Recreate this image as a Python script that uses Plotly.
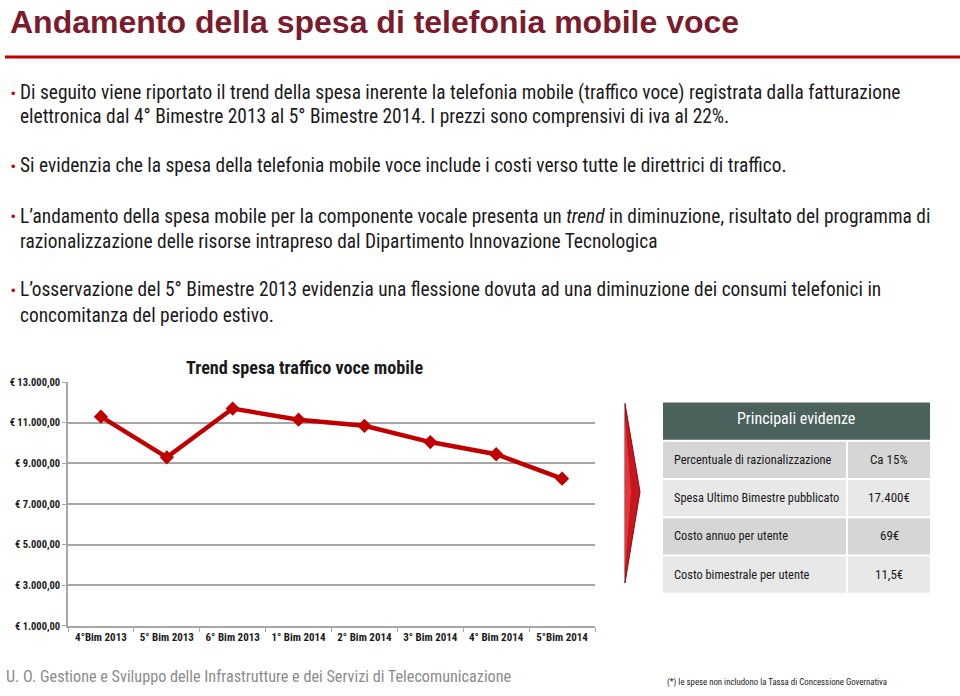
import plotly.graph_objects as go

W, H = 960, 696

# ---------------- data ----------------
categories = ["4°Bim 2013", "5° Bim 2013", "6° Bim 2013", "1° Bim 2014",
              "2° Bim 2014", "3° Bim 2014", "4° Bim 2014", "5°Bim 2014"]
spesa = [11300, 9300, 11700, 11150, 10850, 10050, 9450, 8250]
y_ticks = [1000, 3000, 5000, 7000, 9000, 11000, 13000]
y_tick_labels = ["€ 1.000,00", "€ 3.000,00", "€ 5.000,00", "€ 7.000,00",
                 "€ 9.000,00", "€ 11.000,00", "€ 13.000,00"]

table_header = "Principali evidenze"
table_labels = ["Percentuale di razionalizzazione", "Spesa Ultimo Bimestre pubblicato",
                "Costo annuo per utente", "Costo bimestrale per utente"]
table_values = ["Ca 15%", "17.400€", "69€", "11,5€"]

title = "Andamento della spesa di telefonia mobile voce"
chart_title = "Trend spesa traffico voce mobile"
bullets = [
    ["Di seguito viene riportato il trend della spesa inerente la telefonia mobile (traffico voce) registrata dalla fatturazione",
     "elettronica dal 4° Bimestre 2013 al 5° Bimestre 2014. I prezzi sono comprensivi di iva al 22%."],
    ["Si evidenzia che la spesa della telefonia mobile voce include i costi verso tutte le direttrici di traffico."],
    ["L’andamento della spesa mobile per la componente vocale presenta un <i>trend</i> in diminuzione, risultato del programma di",
     "razionalizzazione delle risorse intrapreso dal Dipartimento Innovazione Tecnologica"],
    ["L’osservazione del 5° Bimestre 2013 evidenzia una flessione dovuta ad una diminuzione dei consumi telefonici in",
     "concomitanza del periodo estivo."],
]
footer = "U. O. Gestione e Sviluppo delle Infrastrutture e dei Servizi di Telecomunicazione"
footnote = "(*) le spese non includono la Tassa di Concessione Governativa"

NARROW = "Liberation Sans Narrow, Arial Narrow, Roboto Condensed, sans-serif"
ARIAL = "Liberation Sans, Arial, sans-serif"


def px(x):
    return x / W


def py(y):
    return 1 - y / H


fig = go.Figure()
fig.add_trace(go.Scatter(
    x=categories, y=spesa, mode="lines+markers",
    line=dict(color="#C00000", width=4.5),
    marker=dict(symbol="diamond", size=11, color="#C00000"),
    showlegend=False, hoverinfo="x+y",
))

annotations = []
shapes = []

# title + rule
annotations.append(dict(x=px(8), y=py(16), xref="paper", yref="paper", xanchor="left", yanchor="middle",
                        text="<b>" + title + "</b>", showarrow=False,
                        font=dict(family=ARIAL, size=32, color="#7B1B2C")))
shapes.append(dict(type="line", xref="paper", yref="paper", x0=px(5), x1=px(960), y0=py(52), y1=py(52),
                   line=dict(color="#C00000", width=3)))

# bullets
line_ys = [[88, 113], [163], [214, 240], [289, 315]]
for lines, ys in zip(bullets, line_ys):
    annotations.append(dict(x=px(9), y=py(ys[0] + 1), xref="paper", yref="paper", xanchor="left", yanchor="middle",
                            text="•", showarrow=False, font=dict(family=ARIAL, size=13, color="#C00000")))
    for t, yy in zip(lines, ys):
        annotations.append(dict(x=px(18), y=py(yy), xref="paper", yref="paper", xanchor="left", yanchor="middle",
                                text=t, showarrow=False, font=dict(family=NARROW, size=19.4, color="#1A1A1A")))

# chart title
annotations.append(dict(x=px(304), y=py(368), xref="paper", yref="paper", xanchor="center", yanchor="middle",
                        text="<b>" + chart_title + "</b>", showarrow=False,
                        font=dict(family=NARROW, size=18.2, color="#1A1A1A")))

# arrow
shapes.append(dict(type="path", xref="paper", yref="paper",
                   path=f"M {px(625)} {py(405)} L {px(640)} {py(495)} L {px(625)} {py(588)} Z",
                   fillcolor="#C8161D", line=dict(color="#8B0E12", width=1)))
shapes.append(dict(type="path", xref="paper", yref="paper",
                   path=f"M {px(625)} {py(420)} L {px(631)} {py(495)} L {px(625)} {py(575)} Z",
                   fillcolor="#E0393E", line=dict(width=0)))

# table
shapes.append(dict(type="rect", xref="paper", yref="paper", x0=px(663), x1=px(930), y0=py(404), y1=py(442),
                   fillcolor="#4B625C", line=dict(width=0)))
annotations.append(dict(x=px(796), y=py(420), xref="paper", yref="paper", xanchor="center", yanchor="middle",
                        text=table_header, showarrow=False, font=dict(family=NARROW, size=16, color="white")))
row_tops = [444, 483, 522, 561]
row_h = 37
fills = ["#D6D6D6", "#E8E8E8", "#D6D6D6", "#E8E8E8"]
for lab, val, top, fc in zip(table_labels, table_values, row_tops, fills):
    shapes.append(dict(type="rect", xref="paper", yref="paper", x0=px(663), x1=px(846), y0=py(top), y1=py(top + row_h),
                       fillcolor=fc, line=dict(width=0)))
    shapes.append(dict(type="rect", xref="paper", yref="paper", x0=px(848), x1=px(930), y0=py(top), y1=py(top + row_h),
                       fillcolor=fc, line=dict(width=0)))
    annotations.append(dict(x=px(672), y=py(top + 18), xref="paper", yref="paper", xanchor="left", yanchor="middle",
                            text=lab, showarrow=False, font=dict(family=NARROW, size=12.4, color="#1A1A1A")))
    annotations.append(dict(x=px(889), y=py(top + 18), xref="paper", yref="paper", xanchor="center", yanchor="middle",
                            text=val, showarrow=False, font=dict(family=NARROW, size=13, color="#1A1A1A")))

# footer
annotations.append(dict(x=px(4), y=py(683), xref="paper", yref="paper", xanchor="left", yanchor="middle",
                        text=footer, showarrow=False, font=dict(family=NARROW, size=16.2, color="#8C8C8C")))
annotations.append(dict(x=px(665), y=py(689), xref="paper", yref="paper", xanchor="left", yanchor="middle",
                        text=footnote, showarrow=False, font=dict(family=NARROW, size=8.8, color="#222222")))

fig.update_layout(
    width=W, height=H, margin=dict(l=0, r=0, t=0, b=0),
    paper_bgcolor="white", plot_bgcolor="white",
    xaxis=dict(domain=[px(68), px(595)], range=[-0.5, 7.5], showgrid=False,
               showline=True, linecolor="#A6A6A6", linewidth=1.5,
               ticks="outside", tickson="boundaries", ticklen=4, tickcolor="#A6A6A6",
               tickfont=dict(family=NARROW, size=11, color="#1A1A1A"),
               tickprefix="<b>", ticksuffix="</b>", fixedrange=True),
    yaxis=dict(domain=[py(631.7), py(383.3)], range=[1000, 13000], tickvals=y_ticks,
               ticktext=["<b>" + t + "</b>" for t in y_tick_labels],
               showgrid=True, gridcolor="#A6A6A6", gridwidth=1.5,
               showline=True, linecolor="#A6A6A6", linewidth=1.5,
               ticks="outside", ticklen=4, tickcolor="#A6A6A6", zeroline=False,
               tickfont=dict(family=NARROW, size=10.5, color="#1A1A1A"), fixedrange=True),
    annotations=annotations, shapes=shapes,
)

fig.write_html("out.html")
